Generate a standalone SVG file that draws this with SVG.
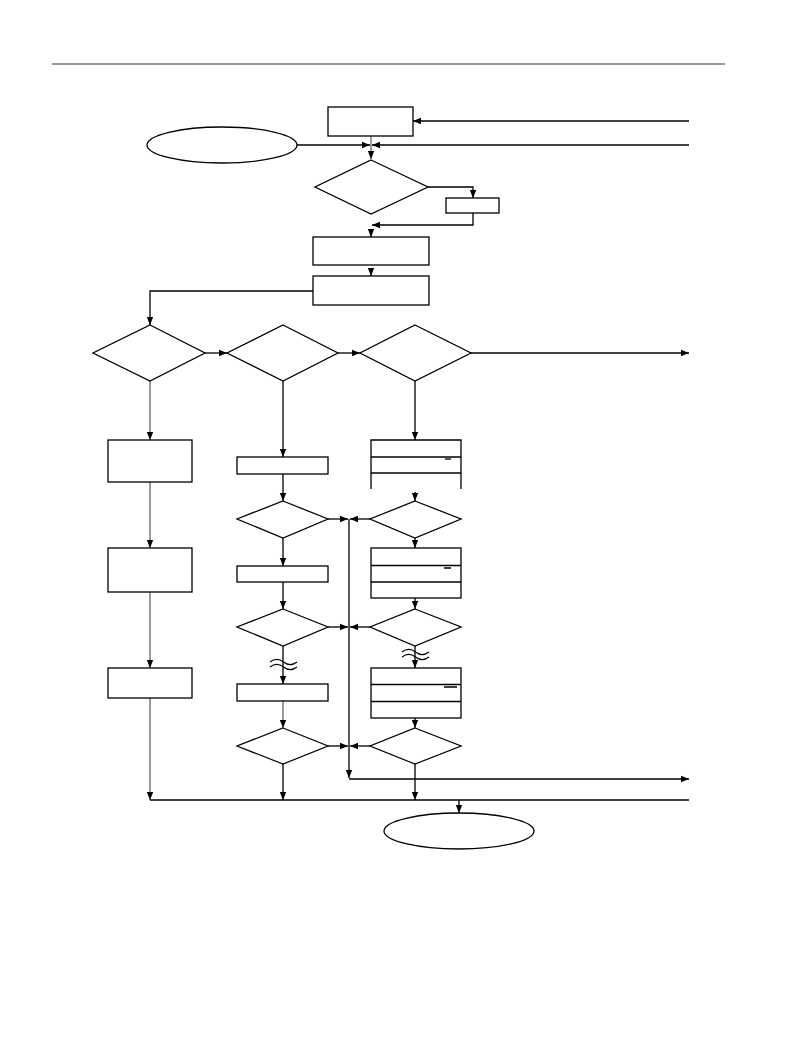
<svg xmlns="http://www.w3.org/2000/svg" width="802" height="1038" viewBox="0 0 802 1038">
<style>
.n{fill:#fff;stroke:#000;stroke-width:1.3}
.c{fill:none;stroke:#000;stroke-width:1.3}
.g{fill:none;stroke:#666;stroke-width:1.3}
.d{fill:none;stroke:#000;stroke-width:1.1}
</style>
<defs>
<marker id="a" markerUnits="userSpaceOnUse" markerWidth="8" markerHeight="8" viewBox="0 0 8 8" refX="8" refY="4" orient="auto"><path d="M0,0.8 L8,4 L0,7.2 Z" fill="#000"/></marker>
</defs>
<rect width="802" height="1038" fill="#fff"/>
<line x1="52" y1="64" x2="725" y2="64" stroke="#999" stroke-width="2"/>
<g id="connectors">
<path class="c" d="M689,121 H413" marker-end="url(#a)"/>
<path class="c" d="M297,145 H370" marker-end="url(#a)"/>
<path class="c" d="M689,145 H372" marker-end="url(#a)"/>
<path class="g" d="M371,136 V159" marker-end="url(#a)"/>
<path class="c" d="M428,187 H473 V198" marker-end="url(#a)"/>
<path class="c" d="M473,213 V225 H372" marker-end="url(#a)"/>
<path class="c" d="M371,229 V237" marker-end="url(#a)"/>
<path class="c" d="M371,268 V276" marker-end="url(#a)"/>
<path class="c" d="M313,291 H150 V325" marker-end="url(#a)"/>
<path class="c" d="M205,353 H227" marker-end="url(#a)"/>
<path class="c" d="M338,353 H360" marker-end="url(#a)"/>
<path class="c" d="M471,353 H689" marker-end="url(#a)"/>
<path class="g" d="M150,381 V440" marker-end="url(#a)"/>
<path class="g" d="M150,482 V548" marker-end="url(#a)"/>
<path class="g" d="M150,592 V668" marker-end="url(#a)"/>
<path class="g" d="M150,698 V800" marker-end="url(#a)"/>
<path class="c" d="M283,381 V457" marker-end="url(#a)"/>
<path class="c" d="M283,474 V501" marker-end="url(#a)"/>
<path class="c" d="M283,538 V566" marker-end="url(#a)"/>
<path class="c" d="M283,582 V609" marker-end="url(#a)"/>
<path class="c" d="M283,646 V684" marker-end="url(#a)"/>
<path class="g" d="M283,701 V728" marker-end="url(#a)"/>
<path class="c" d="M283,764 V800" marker-end="url(#a)"/>
<path class="c" d="M415,381 V440" marker-end="url(#a)"/>
<path class="c" d="M415,492 V501" marker-end="url(#a)"/>
<path class="c" d="M415,538 V548" marker-end="url(#a)"/>
<path class="c" d="M415,598 V609" marker-end="url(#a)"/>
<path class="c" d="M415,646 V668" marker-end="url(#a)"/>
<path class="c" d="M415,718 V728" marker-end="url(#a)"/>
<path class="c" d="M415,764 V800" marker-end="url(#a)"/>
<path class="c" d="M328,519 H348" marker-end="url(#a)"/>
<path class="c" d="M370,519 H350" marker-end="url(#a)"/>
<path class="c" d="M328,627 H348" marker-end="url(#a)"/>
<path class="c" d="M370,627 H350" marker-end="url(#a)"/>
<path class="c" d="M328,746 H348" marker-end="url(#a)"/>
<path class="c" d="M370,746 H350" marker-end="url(#a)"/>
<path class="c" d="M349,519 V778" marker-end="url(#a)"/>
<path class="c" d="M349,779 H689" marker-end="url(#a)"/>
<path class="c" d="M150,800 H689"/>
<path class="c" d="M459,800 V813" marker-end="url(#a)"/>
<path class="d" d="M270,662 c4.5,-3.5 9,-3.5 13.5,0 s9,3.5 13.5,0 M270,667 c4.5,-3.5 9,-3.5 13.5,0 s9,3.5 13.5,0"/>
<path class="d" d="M402,652 c4.5,-3.5 9,-3.5 13.5,0 s9,3.5 13.5,0 M402,657 c4.5,-3.5 9,-3.5 13.5,0 s9,3.5 13.5,0"/>
</g>
<g id="start"><ellipse class="n" cx="222" cy="145" rx="75" ry="18"/></g>
<g id="topbox"><rect class="n" x="328" y="107" width="85" height="29"/></g>
<g id="dec1"><path class="n" d="M371,160 L428,187 L371,214 L315,187 Z"/></g>
<g id="smallbox"><rect class="n" x="446" y="198" width="53" height="15"/></g>
<g id="box2"><rect class="n" x="313" y="237" width="116" height="28"/></g>
<g id="box3"><rect class="n" x="313" y="276" width="116" height="29"/></g>
<g id="decL"><path class="n" d="M150,325 L205,353 L150,381 L93,353 Z"/></g>
<g id="decM"><path class="n" d="M283,325 L338,353 L283,381 L227,353 Z"/></g>
<g id="decR"><path class="n" d="M415,325 L471,353 L415,381 L360,353 Z"/></g>
<g id="L1"><rect class="n" x="108" y="440" width="84" height="42"/></g>
<g id="L2"><rect class="n" x="108" y="548" width="84" height="44"/></g>
<g id="L3"><rect class="n" x="108" y="668" width="84" height="30"/></g>
<g id="M1"><rect class="n" x="237" y="457" width="91" height="17"/></g>
<g id="M2"><rect class="n" x="237" y="566" width="91" height="16"/></g>
<g id="M3"><rect class="n" x="237" y="684" width="91" height="17"/></g>
<g id="decM2"><path class="n" d="M283,501 L328,519 L283,538 L237,519 Z"/></g>
<g id="decM3"><path class="n" d="M283,609 L328,627 L283,646 L237,627 Z"/></g>
<g id="decM4"><path class="n" d="M283,728 L328,746 L283,764 L237,746 Z"/></g>
<g id="R1"><path class="c" d="M371,489 V440 H461 V489 M371,457 H461 M371,473 H461"/><path class="c" d="M445,459 H451"/></g>
<g id="R2"><rect class="n" x="371" y="548" width="90" height="50"/><path class="c" d="M371,565.5 H461 M371,582 H461 M444,568 H451"/></g>
<g id="R3"><rect class="n" x="371" y="668" width="90" height="50"/><path class="c" d="M371,684.5 H461 M371,701.5 H461 M444,687 H457"/></g>
<g id="decR2"><path class="n" d="M415,501 L461,519 L415,538 L370,519 Z"/></g>
<g id="decR3"><path class="n" d="M415,609 L461,627 L415,646 L370,627 Z"/></g>
<g id="decR4"><path class="n" d="M415,728 L461,746 L415,764 L370,746 Z"/></g>
<g id="end"><ellipse class="n" cx="459" cy="831" rx="75" ry="18"/></g>
</svg>
